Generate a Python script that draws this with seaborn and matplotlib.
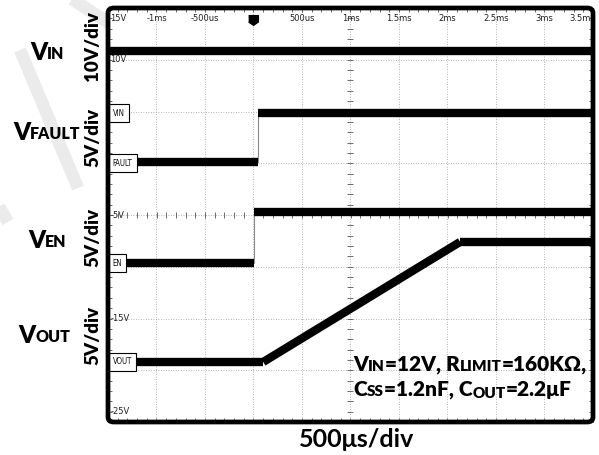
import numpy as np
import pandas as pd
import matplotlib
matplotlib.use("Agg")
import matplotlib.pyplot as plt
import seaborn as sns
from matplotlib.patches import FancyBboxPatch
from matplotlib.lines import Line2D

# ---------------- data ----------------
time_ticks = [-1.5, -1.0, -0.5, 0.0, 0.5, 1.0, 1.5, 2.0, 2.5, 3.0, 3.5]
time_labels = ["", "-1ms", "-500us", "", "500us", "1ms", "1.5ms", "2ms", "2.5ms", "3ms", "3.5ms"]
volt_ticks = [-25, -20, -15, -10, -5, 0, 5, 10, 15]
volt_marks = [15, 10, -5, -15, -25]
volt_labels = ["15V", "10V", "-5V", "-15V", "-25V"]

vin_t = [-1.5, 3.5]
vin_v = [10.85, 10.85]
fault_t = [-1.5, 0.045, 0.045, 3.5]
fault_v = [0.1, 0.1, 4.85, 4.85]
en_t = [-1.5, 0.005, 0.005, 3.5]
en_v = [-9.65, -9.65, -4.7, -4.7]
vout_t = [-1.5, 0.10, 2.13, 3.5]
vout_v = [-19.2, -19.2, -7.6, -7.6]

marker_names = ["VIN", "FAULT", "EN", "VOUT"]
marker_levels = [4.85, 0.0, -9.65, -19.2]

chan_big = ["V", "V", "V", "V"]
chan_small = ["IN", "FAULT", "EN", "OUT"]
chan_scale = ["10V/div", "5V/div", "5V/div", "5V/div"]

# ---------------- style ----------------
sns.set_style("white")
plt.rcParams["font.family"] = ["Lato", "DejaVu Sans"]

W, H = 599, 455
fig = plt.figure(figsize=(W / 100, H / 100), dpi=100)
fig.patch.set_facecolor("white")

# watermark strokes (figure pixel coords)
for (x0, y0, x1, y1) in [(20, 50, 78, 188), (66, -5, 110, 24), (-5, 200, 8, 222)]:
    fig.add_artist(Line2D([x0 / W, x1 / W], [1 - y0 / H, 1 - y1 / H], transform=fig.transFigure,
                          color="#ebebeb", lw=9, solid_capstyle="butt", zorder=0))

ax = fig.add_axes([108 / W, 1 - 422 / H, 485 / W, 414 / H])
ax.set_facecolor("white")
ax.set_xlim(-1.5, 3.5)
ax.set_ylim(-25, 15)

ax.set_xticks(time_ticks)
ax.set_yticks(volt_ticks)
ax.set_xticks(np.arange(-1.5, 3.51, 0.1), minor=True)
ax.set_yticks(np.arange(-25, 15.1, 1), minor=True)
ax.tick_params(which="both", direction="in", top=True, bottom=True, left=True, right=True,
               labelbottom=False, labelleft=False, color="#555555", width=0.6)
ax.tick_params(which="major", length=3)
ax.tick_params(which="minor", length=3)
ax.grid(True, which="major", color="#9a9a9a", lw=0.6, ls=(0, (1, 2)))
for s in ax.spines.values():
    s.set_visible(False)

# centre cross ticks
cx = np.arange(-1.5, 3.51, 0.1)
ax.plot(cx, np.full_like(cx, -5.0), ls="none", marker="|", ms=4, mew=0.6, color="#555555", zorder=2)
cy = np.arange(-25, 15.1, 1.0)
ax.plot(np.full_like(cy, 1.0), cy, ls="none", marker="_", ms=4, mew=0.6, color="#555555", zorder=2)


def draw_trace(t, v):
    for i in range(len(t) - 1):
        df = pd.DataFrame({"t": [t[i], t[i + 1]], "v": [v[i], v[i + 1]]})
        if t[i] == t[i + 1]:
            sns.lineplot(data=df, x="t", y="v", ax=ax, color="#8a8a8a", lw=0.8,
                         sort=False, estimator=None, zorder=3)
        else:
            sns.lineplot(data=df, x="t", y="v", ax=ax, color="black", lw=6,
                         sort=False, estimator=None, zorder=4, solid_capstyle="butt")


for t, v in [(vin_t, vin_v), (fault_t, fault_v), (en_t, en_v), (vout_t, vout_v)]:
    draw_trace(t, v)
ax.set_xlabel("")
ax.set_ylabel("")

narrow = ["Liberation Sans Narrow", "DejaVu Sans"]

# channel ground markers
for name, lvl in zip(marker_names, marker_levels):
    ax.text(-1.452, lvl, name, ha="left", va="center", fontsize=5.6, family=narrow,
            color="#111111", zorder=6, fontstretch="condensed",
            bbox=dict(boxstyle="square,pad=0.55", fc="white", ec="black", lw=0.8))

# top time labels
for tt, lab in zip(time_ticks, time_labels):
    if lab:
        ha = "right" if tt == time_ticks[-1] else "center"
        xx = tt + 0.02 if tt == time_ticks[-1] else tt
        ax.text(xx, 14.0, lab, ha=ha, va="center", fontsize=6.0, family=narrow,
                color="#222222", zorder=6)
# voltage labels
for vv, lab in zip(volt_marks, volt_labels):
    if vv == 15:
        yy = 14.0
    elif vv == -25:
        yy = -24.0
    else:
        yy = vv
    ax.text(-1.475, yy, lab, ha="left", va="center", fontsize=6.0, family=narrow,
            color="#222222", zorder=6)

# trigger marker
ax.plot([0.0], [13.8], marker=[(-1, 1), (1, 1), (1, -0.3), (0, -1), (-1, -0.3)], ms=7,
        color="black", ls="none", zorder=7, clip_on=False)

# rounded thick frame
ax.add_patch(FancyBboxPatch((0, 0), 1, 1, boxstyle="round,pad=0,rounding_size=0.012",
                            transform=ax.transAxes, fill=False, ec="black", lw=3.4,
                            clip_on=False, zorder=10))


def rich(x, y, pieces, weight="heavy"):
    """pieces: list of (text, size, extra_dy_points); x, y in figure pixels (y from top)."""
    prev = None
    prev_size = None
    for txt, size, extra in pieces:
        if prev is None:
            a = fig.text(x / W, 1 - y / H, txt, fontsize=size, fontweight=weight,
                         ha="left", va="baseline", color="black")
        else:
            dy = 0.2 * (prev_size - size) + extra
            a = ax.annotate(txt, xy=(1, 0), xycoords=prev, xytext=(0, dy),
                            textcoords="offset points", ha="left", va="bottom",
                            fontsize=size, fontweight=weight, color="black",
                            annotation_clip=False)
        prev = a
        prev_size = size


# channel names on left
chan_pos = [(30, 60), (13, 140), (28, 248), (18, 343)]
for big, small, (px, py) in zip(chan_big, chan_small, chan_pos):
    rich(px, py, [(big, 17.5, 0), (small, 11.5, 0)])

# scale labels (rotated)
scale_pos = [(93, 46), (93, 137), (93, 237), (93, 335)]
for lab, (px, py) in zip(chan_scale, scale_pos):
    fig.text(px / W, 1 - py / H, lab, rotation=90, ha="center", va="center",
             fontsize=13.5, fontweight="heavy", color="black")

# annotation text
rich(353, 371, [("V", 15, 0), ("IN", 11, 0), ("=12V, R", 15, 0), ("LIMIT", 11, 0),
                ("=160KΩ,", 15, 0)])
rich(353, 396, [("C", 15, 0), ("SS", 11, 0), ("=1.2nF, C", 15, 0), ("OUT", 11, -1.5),
                ("=2.2μF", 15, 1.5)])

# x label
fig.text(357 / W, 1 - 447 / H, "500μs/div", ha="center", va="baseline",
         fontsize=18, fontweight="bold", color="black")

fig.savefig("out.png", dpi=100)
